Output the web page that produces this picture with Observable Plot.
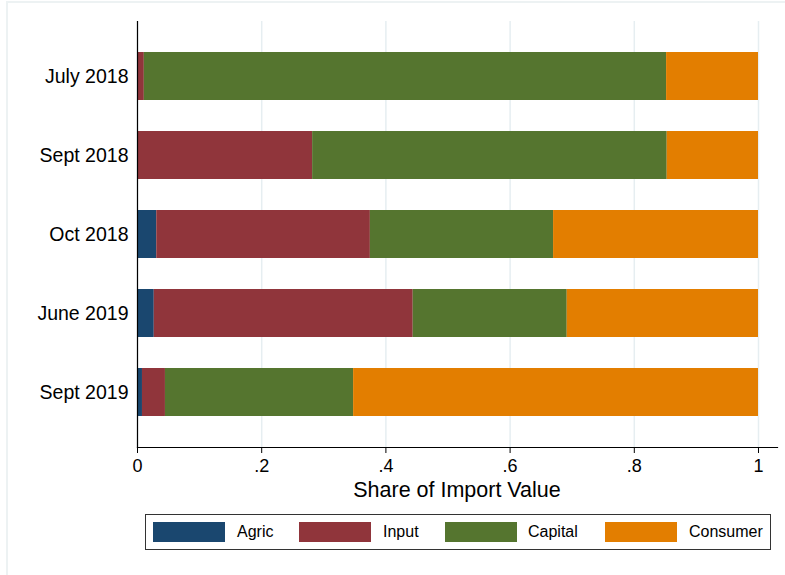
<!DOCTYPE html>
<html>
<head>
<meta charset="utf-8">
<script src="https://cdn.jsdelivr.net/npm/d3@7"></script>
<script src="https://cdn.jsdelivr.net/npm/@observablehq/plot@0.6"></script>
<style>
  html, body { margin: 0; padding: 0; background: #fff; }
  #wrap { position: relative; width: 785px; height: 575px; overflow: hidden; font-family: "Liberation Sans", Arial, Helvetica, sans-serif; color: #000; }
  #frame { position: absolute; left: 6px; top: 1px; width: 900px; height: 700px; border-left: 2px solid #edf2f3; border-top: 2px solid #edf2f3; }
  #chart { position: absolute; left: 0; top: 0; }
  #xtitle { position: absolute; left: 137px; width: 640px; top: 477px; text-align: center; font-size: 21.5px; line-height: 26px; }
  #legend { position: absolute; left: 145px; top: 514px; width: 626px; height: 36px; border: 1px solid #333; box-sizing: border-box; }
  .sw { position: absolute; top: 7px; width: 72px; height: 20px; }
  .lb { position: absolute; top: 8px; font-size: 16px; line-height: 18px; }
</style>
</head>
<body>
<div id="wrap">
  <div id="frame"></div>
  <div id="chart"></div>
  <div id="xtitle">Share of Import Value</div>
  <div id="legend"></div>
</div>
<script>
const periods = ["July 2018", "Sept 2018", "Oct 2018", "June 2019", "Sept 2019"];
const categories = ["Agric", "Input", "Capital", "Consumer"];
const agric    = [0.000, 0.000, 0.031, 0.027, 0.008];
const input    = [0.011, 0.282, 0.344, 0.417, 0.037];
const capital  = [0.841, 0.571, 0.295, 0.248, 0.303];
const consumer = [0.148, 0.147, 0.330, 0.308, 0.652];
const colors = ["#1a476f", "#90353b", "#55752f", "#e37e00"];
const xTicks = [0, 0.2, 0.4, 0.6, 0.8, 1];
const xTickLabels = ["0", ".2", ".4", ".6", ".8", "1"];

const series = [agric, input, capital, consumer];
const data = [];
periods.forEach((p, i) => {
  categories.forEach((c, j) => {
    data.push({period: p, category: c, value: series[j][i]});
  });
});

const chart = Plot.plot({
  width: 785,
  height: 505,
  marginLeft: 137,
  marginRight: 8,
  marginTop: 21,
  marginBottom: 58,
  style: {fontFamily: '"Liberation Sans", Arial, Helvetica, sans-serif', color: "#000", background: "transparent"},
  x: {domain: [0, 1.0306], ticks: xTicks, label: null},
  y: {domain: periods, paddingInner: 0.396, paddingOuter: 0.371, label: null},
  color: {domain: categories, range: colors},
  marks: [
    Plot.gridX(xTicks, {stroke: "#e6eef1", strokeOpacity: 1, strokeWidth: 1.5}),
    Plot.barX(data, {x: "value", y: "period", fill: "category", order: categories, inset: 0}),
    Plot.frame({anchor: "left", stroke: "#000", strokeWidth: 1.2}),
    Plot.frame({anchor: "bottom", stroke: "#000", strokeWidth: 1.2}),
    Plot.axisX(xTicks, {tickSize: 6, tickPadding: 6, fontSize: 18, tickFormat: (d) => xTickLabels[xTicks.indexOf(d)], label: null, stroke: "#000"}),
    Plot.axisY({tickSize: 0, tickPadding: 9, fontSize: 19.5, label: null})
  ]
});
document.getElementById("chart").appendChild(chart);

const legend = document.getElementById("legend");
const swX = [7, 153, 299, 459];
const lbX = [91, 237, 382, 543];
categories.forEach((c, j) => {
  const s = document.createElement("div");
  s.className = "sw";
  s.style.left = swX[j] + "px";
  s.style.background = colors[j];
  legend.appendChild(s);
  const t = document.createElement("div");
  t.className = "lb";
  t.style.left = lbX[j] + "px";
  t.textContent = c;
  legend.appendChild(t);
});
</script>
</body>
</html>
